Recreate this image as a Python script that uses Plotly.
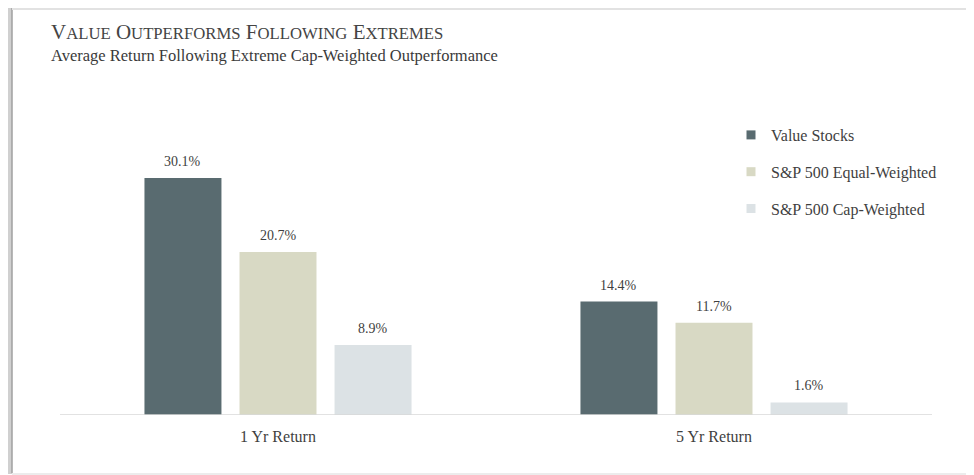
import plotly.graph_objects as go

categories = ["1 Yr Return", "5 Yr Return"]
series_names = ["Value Stocks", "S&P 500 Equal-Weighted", "S&P 500 Cap-Weighted"]
value_stocks = [30.1, 14.4]
equal_weighted = [20.7, 11.7]
cap_weighted = [8.9, 1.6]
colors = ["#596b70", "#d8d9c4", "#dce2e5"]

title_big = 21
title_small = 16.7
FONT = "Liberation Serif"
TXT = "#3f3f3f"

OFF = 8  # page body margin
W, H = 974 - OFF, 475 - OFF
L, R, T, B = 52, 42, 92, 60
PW, PH = W - L - R, H - T - B


def px2x(px):
    return (px - OFF - L) / PW


def py2y(py):
    return (H - B - (py - OFF)) / PH


def small_caps(text):
    out = []
    for word in text.split(" "):
        out.append(word[0] + f"<span style='font-size:{title_small}px'>{word[1:]}</span>")
    return " ".join(out)


bargap, bargroupgap = 0.346, 0.19
slot_px = (1 - bargap) * (PW / len(categories)) / 3

fig = go.Figure()
all_series = [value_stocks, equal_weighted, cap_weighted]
for i, (name, vals, col) in enumerate(zip(series_names, all_series, colors)):
    fig.add_trace(go.Bar(
        x=categories, y=vals, name=name, marker=dict(color=col, line=dict(width=0)),
        showlegend=False, legendgroup=name, hoverinfo="x+y+name",
    ))
    fig.add_trace(go.Scatter(
        x=[None], y=[None], mode="markers", name=name, legendgroup=name,
        marker=dict(symbol="square", size=9, color=col), showlegend=True,
    ))
    for cat, v in zip(categories, vals):
        fig.add_annotation(x=cat, y=v, xref="x", yref="y", text=f"{v:.1f}%",
                           showarrow=False, yanchor="bottom", xanchor="center",
                           xshift=(i - 1) * slot_px, yshift=7,
                           font=dict(family=FONT, size=14, color=TXT))

fig.update_layout(
    width=W, height=H,
    margin=dict(l=L, r=R, t=T, b=B, pad=0),
    paper_bgcolor="white", plot_bgcolor="white",
    barmode="group", bargap=bargap, bargroupgap=bargroupgap,
    font=dict(family=FONT, color=TXT),
    xaxis=dict(showgrid=False, zeroline=False, showline=False, ticks="",
               tickfont=dict(family=FONT, size=16, color=TXT), ticklabelstandoff=10),
    yaxis=dict(range=[0, 40], visible=False, showgrid=False, zeroline=False),
    legend=dict(x=px2x(731), y=py2y(118), xanchor="left", yanchor="top",
                font=dict(family=FONT, size=16, color=TXT), tracegroupgap=13,
                bgcolor="rgba(0,0,0,0)"),
    showlegend=True,
)

# baseline
fig.add_shape(type="line", xref="paper", yref="y", x0=0, x1=1, y0=0, y1=0,
              line=dict(color="#d9d9d9", width=1.5), layer="above")

# frame / shadow
fig.add_shape(type="line", xref="paper", yref="paper", x0=px2x(10), x1=px2x(10),
              y0=py2y(8), y1=py2y(474), line=dict(color="#d0d0d0", width=4))
fig.add_shape(type="line", xref="paper", yref="paper", x0=px2x(12), x1=px2x(12),
              y0=py2y(8), y1=py2y(473), line=dict(color="#a0a0a0", width=1.5))
fig.add_shape(type="line", xref="paper", yref="paper", x0=px2x(12), x1=px2x(974),
              y0=py2y(9), y1=py2y(9), line=dict(color="#e2e2e2", width=2))
fig.add_shape(type="line", xref="paper", yref="paper", x0=px2x(12), x1=px2x(974),
              y0=py2y(474), y1=py2y(474), line=dict(color="#ececec", width=2))

fig.add_annotation(xref="paper", yref="paper", x=px2x(49), y=py2y(31.5),
                   xanchor="left", yanchor="middle", showarrow=False,
                   text=small_caps("VALUE OUTPERFORMS FOLLOWING EXTREMES"),
                   font=dict(family=FONT, size=title_big, color="#444444"))
fig.add_annotation(xref="paper", yref="paper", x=px2x(49), y=py2y(55.5),
                   xanchor="left", yanchor="middle", showarrow=False,
                   text="Average Return Following Extreme Cap-Weighted Outperformance",
                   font=dict(family=FONT, size=16.5, color="#3a3a3a"))

fig.write_html("out.html")
